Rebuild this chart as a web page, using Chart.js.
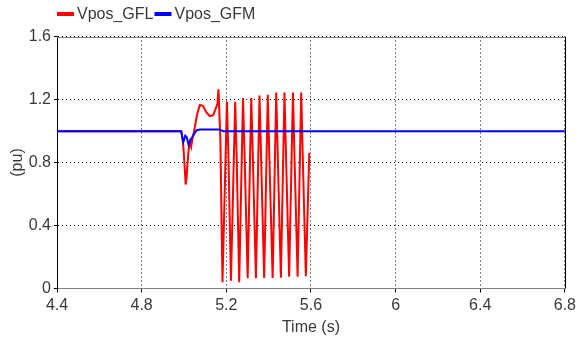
<!DOCTYPE html>
<html>
<head>
<meta charset="utf-8">
<script src="https://cdn.jsdelivr.net/npm/chart.js@4"></script>
<style>
  html, body { margin: 0; padding: 0; background: #fff; }
  #wrap { width: 579px; height: 341px; position: relative; }
</style>
</head>
<body>
<div id="wrap"><canvas id="vpos"></canvas></div>
<script>
const xTicks = [4.4, 4.8, 5.2, 5.6, 6.0, 6.4, 6.8]
const yTicks = [0, 0.4, 0.8, 1.2, 1.6]

// grid following converter, positive sequence voltage
const gfmTime = [4.4, 4.986, 4.997, 5.006, 5.013, 5.022, 5.03, 5.045, 5.06, 5.075, 5.17, 5.185, 6.8]
const gfmVolt = [0.998, 0.998, 0.93, 0.97, 0.96, 0.912, 0.94, 0.975, 1.005, 1.01, 1.01, 0.998, 0.998]

// grid following converter, loses sync after 5.16 s
const gflTime = [
    4.4, 4.988, 4.996, 5.002, 5.008, 5.012, 5.017, 5.022, 5.028, 5.034, 5.04, 5.048,
    5.061, 5.075, 5.09, 5.105, 5.122, 5.138, 5.152, 5.158, 5.163,
    5.172, 5.182, 5.203, 5.21, 5.222, 5.242, 5.249, 5.261, 5.279, 5.287, 5.301,
    5.318, 5.326, 5.340, 5.357, 5.365, 5.379, 5.396, 5.404, 5.419, 5.436, 5.444,
    5.458, 5.475, 5.483, 5.497, 5.515, 5.523, 5.537, 5.554, 5.562, 5.576, 5.592
]
const gflVolt = [
    0.998, 0.998, 0.92, 0.80, 0.66, 0.70, 0.80, 0.88, 0.93, 0.90, 0.95, 1.0,
    1.10, 1.165, 1.16, 1.12, 1.095, 1.10, 1.15, 1.17, 1.265,
    0.95, 0.04, 1.185, 0.85, 0.05, 1.185, 0.84, 0.04, 1.21, 0.82, 0.065,
    1.21, 0.80, 0.065, 1.225, 0.80, 0.067, 1.23, 0.80, 0.067, 1.245, 0.80,
    0.068, 1.245, 0.80, 0.074, 1.245, 0.80, 0.074, 1.245, 0.80, 0.078, 0.86
]

const FONT = "'Liberation Sans', Arial, sans-serif"
const TEXT = '#383838'

function points(t, v) {
    return t.map((x, i) => ({ x: x, y: v[i] }))
}

// solid top/right edges of the plot box
const frame = {
    id: 'frame',
    afterDraw: (chart) => {
        const { ctx, chartArea: a } = chart
        ctx.save()
        ctx.lineWidth = 1
        ctx.strokeStyle = '#808080'
        ctx.beginPath()
        ctx.moveTo(a.left, Math.round(a.top) + 0.5)
        ctx.lineTo(a.right, Math.round(a.top) + 0.5)
        ctx.stroke()
        ctx.strokeStyle = '#000'
        ctx.beginPath()
        ctx.moveTo(Math.round(a.right) + 0.5, a.top)
        ctx.lineTo(Math.round(a.right) + 0.5, a.bottom)
        ctx.stroke()
        ctx.restore()
    }
}

// compact line legend above the plot
const lineLegend = {
    id: 'lineLegend',
    afterDraw: (chart) => {
        const { ctx, chartArea } = chart
        ctx.save()
        ctx.font = '16px ' + FONT
        ctx.textBaseline = 'middle'
        let x = chartArea.left
        const y = 14
        chart.data.datasets.forEach(ds => {
            ctx.fillStyle = ds.borderColor
            ctx.fillRect(x, y - 2, 17, 4)
            x += 20
            ctx.fillStyle = TEXT
            ctx.fillText(ds.label, x, y + 1)
            x += ctx.measureText(ds.label).width + 1
        })
        ctx.restore()
    }
}

new Chart(document.getElementById('vpos'), {
    type: 'line',
    data: {
        datasets: [
            {
                label: 'Vpos_GFL',
                data: points(gflTime, gflVolt),
                borderColor: '#ff0000',
                borderWidth: 2,
                pointRadius: 0,
                tension: 0,
                order: 1,
            },
            {
                label: 'Vpos_GFM',
                data: points(gfmTime, gfmVolt),
                borderColor: '#0000ff',
                borderWidth: 2,
                pointRadius: 0,
                tension: 0,
                order: 0,
            }
        ]
    },
    options: {
        responsive: true,
        maintainAspectRatio: false,
        animation: false,
        events: [],
        layout: { padding: { top: 36.5, right: 13.5, bottom: 0, left: 0 } },
        plugins: {
            legend: { display: false },
            tooltip: { enabled: false },
        },
        scales: {
            x: {
                type: 'linear',
                min: 4.4,
                max: 6.8,
                afterBuildTicks: (scale) => { scale.ticks = xTicks.map(v => ({ value: v })) },
                afterFit: (scale) => { scale.height = 52.5 },
                ticks: {
                    font: { family: FONT, size: 16 },
                    color: TEXT,
                    padding: 3,
                    maxRotation: 0,
                    autoSkip: false,
                    callback: (v) => String(Number(v.toFixed(1))),
                },
                grid: {
                    color: '#000',
                    tickColor: '#000',
                    tickLength: 4,
                    tickBorderDash: [],
                },
                border: { color: '#808080', width: 1, dash: [1, 3] },
                title: {
                    display: true,
                    text: 'Time (s)',
                    font: { family: FONT, size: 16 },
                    color: TEXT,
                    padding: { top: 0, bottom: 4 },
                },
            },
            y: {
                min: 0,
                max: 1.6,
                afterBuildTicks: (scale) => { scale.ticks = yTicks.map(v => ({ value: v })) },
                afterFit: (scale) => { scale.width = 57 },
                ticks: {
                    font: { family: FONT, size: 16 },
                    color: TEXT,
                    padding: 3,
                    callback: (v) => String(Number(v.toFixed(1))),
                },
                grid: {
                    color: '#000',
                    tickColor: '#000',
                    tickLength: 3,
                    tickBorderDash: [],
                },
                border: { color: '#000', width: 1, dash: [1, 3] },
                title: {
                    display: true,
                    text: '(pu)',
                    font: { family: FONT, size: 16 },
                    color: TEXT,
                    padding: { top: 8, bottom: 0 },
                },
            }
        }
    },
    plugins: [frame, lineLegend],
})
</script>
</body>
</html>
